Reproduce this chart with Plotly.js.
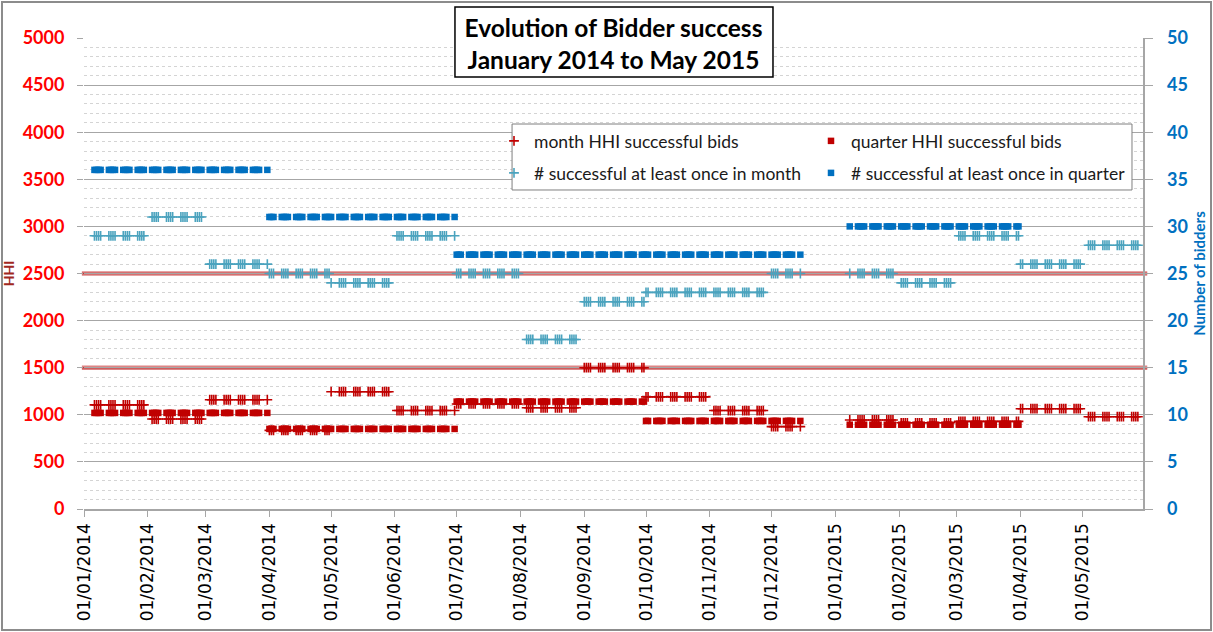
<!DOCTYPE html>
<html>
<head>
<meta charset="utf-8">
<script src="https://cdn.plot.ly/plotly-3.0.1.min.js"></script>
<style>
  html, body { margin: 0; padding: 0; background: #ffffff; }
  #chart { width: 1213px; height: 632px; position: absolute; left: 0; top: 0; }
  #frame { position: absolute; left: 1px; top: 1px; width: 1207px; height: 626px;
           border: 2px solid #8c8c8c; pointer-events: none; }
</style>
</head>
<body>
<div id="chart"></div>
<div id="frame"></div>
<script>
// ---- Data ----
// Monthly values (Jan 2014 .. May 2015)
const months = ['2014-01','2014-02','2014-03','2014-04','2014-05','2014-06',
                '2014-07','2014-08','2014-09','2014-10','2014-11','2014-12',
                '2015-01','2015-02','2015-03','2015-04','2015-05'];
const monthHHI = [1105, 955, 1160, 835, 1245, 1045,
                  1115, 1075, 1500, 1190, 1045, 875,
                  945, 915, 930, 1065, 980];
const monthBidders = [29, 31, 26, 25, 24, 29,
                      25, 18, 22, 23, 23, 25,
                      25, 24, 29, 26, 28];
// Quarterly values (Q1 2014 .. Q1 2015)
const quarters = ['2014-Q1','2014-Q2','2014-Q3','2014-Q4','2015-Q1'];
const quarterHHI = [1020, 850, 1140, 935, 895];
const quarterBidders = [36, 31, 27, 27, 30];
// Periods covered by observations (observation days: Monday to Thursday)
const periodStart = ['2014-01-06', '2015-01-08'];
const periodEnd   = ['2014-12-15', '2015-05-28'];
const observationWeekdays = [1, 2, 3, 4];
// Reference levels
const hhiThresholds = [1500, 2500];

// ---- Expand to one observation per observation day ----
function pad(n){ return (n < 10 ? '0' : '') + n; }
const xDay = [], yMonthHHI = [], yMonthBid = [];
const xQ = [], yQHHI = [], yQBid = [];
for (let p = 0; p < periodStart.length; p++) {
  const s = periodStart[p].split('-').map(Number);
  const e = periodEnd[p].split('-').map(Number);
  let d = new Date(Date.UTC(s[0], s[1]-1, s[2]));
  const end = new Date(Date.UTC(e[0], e[1]-1, e[2]));
  while (d <= end) {
    if (observationWeekdays.indexOf(d.getUTCDay()) >= 0) {
      const y = d.getUTCFullYear(), m = d.getUTCMonth();
      const key = y + '-' + pad(m+1);
      const ds = key + '-' + pad(d.getUTCDate());
      const mi = months.indexOf(key);
      if (mi >= 0) {
        xDay.push(ds); yMonthHHI.push(monthHHI[mi]); yMonthBid.push(monthBidders[mi]);
        const qi = quarters.indexOf(y + '-Q' + (Math.floor(m/3)+1));
        if (qi >= 0) { xQ.push(ds); yQHHI.push(quarterHHI[qi]); yQBid.push(quarterBidders[qi]); }
      }
    }
    d = new Date(d.getTime() + 86400000);
  }
}

const RED = '#C00000', TEAL = '#4BA3BE', BLUE = '#0070C0';
const traces = [
  { type: 'scatter', mode: 'markers', name: 'month HHI successful bids',
    x: xDay, y: yMonthHHI, yaxis: 'y', legend: 'legend',
    marker: { symbol: 'cross-thin', size: 7, color: RED, line: { color: RED, width: 1.6 } } },
  { type: 'scatter', mode: 'markers', name: 'quarter HHI successful bids',
    x: xQ, y: yQHHI, yaxis: 'y', legend: 'legend',
    marker: { symbol: 'square', size: 6.5, color: RED } },
  { type: 'scatter', mode: 'markers', name: '# successful at least once in month',
    x: xDay, y: yMonthBid, yaxis: 'y2', legend: 'legend2',
    marker: { symbol: 'cross-thin', size: 7, color: TEAL, line: { color: TEAL, width: 1.6 } } },
  { type: 'scatter', mode: 'markers', name: '# successful at least once in quarter',
    x: xQ, y: yQBid, yaxis: 'y2', legend: 'legend2',
    marker: { symbol: 'square', size: 6.5, color: BLUE } }
];

const shapes = [];
hhiThresholds.forEach(v => {
  shapes.push({ type: 'line', xref: 'paper', x0: -0.002, x1: 1.004, yref: 'y', y0: v, y1: v,
    line: { color: 'rgba(200,50,50,0.6)', width: 4.5 }, layer: 'below' });
  shapes.push({ type: 'line', xref: 'paper', x0: -0.002, x1: 1.004, yref: 'y', y0: v, y1: v,
    line: { color: 'rgba(185,45,45,0.85)', width: 1.5 }, layer: 'below' });
});
// title box
shapes.push({ type: 'rect', xref: 'paper', yref: 'paper', x0: 0.3503, x1: 0.6506, y0: 0.9172, y1: 1.0658,
  fillcolor: '#ffffff', line: { color: '#000000', width: 1.5 }, layer: 'above' });
// legend box
shapes.push({ type: 'rect', xref: 'paper', yref: 'paper', x0: 0.4042, x1: 0.9896, y0: 0.6773, y1: 0.8174,
  fillcolor: '#ffffff', line: { color: '#7f7f7f', width: 1 }, layer: 'above' });

const legendCommon = {
  orientation: 'h', xanchor: 'left', yanchor: 'middle',
  bgcolor: 'rgba(0,0,0,0)', borderwidth: 0,
  entrywidthmode: 'pixels', entrywidth: 272, itemwidth: 30,
  font: { family: 'Lato, sans-serif', size: 17.5, color: '#1a1a1a' }
};

const layout = {
  width: 1213, height: 632,
  margin: { l: 84, r: 70, t: 38, b: 123 },
  paper_bgcolor: '#ffffff', plot_bgcolor: '#ffffff',
  showlegend: true,
  title: { text: '<b>Evolution of Bidder success<br>January 2014 to May 2015</b>',
    xref: 'paper', x: 0.5, xanchor: 'center', yref: 'container', y: 1 - 37/632, yanchor: 'middle',
    font: { family: 'Lato, sans-serif', size: 24.5, color: '#000000' } },
  xaxis: {
    type: 'date', range: ['2013-12-31 22:00', '2015-05-30 12:00'],
    tick0: '2014-01-01', dtick: 'M1', tickformat: '%d/%m/%Y', tickangle: -90,
    tickfont: { family: 'DejaVu Sans, sans-serif', size: 17, color: '#000000' },
    ticks: 'outside', ticklen: 6, tickcolor: '#a6a6a6',
    showline: true, linecolor: '#a6a6a6', linewidth: 1.5,
    showgrid: false, zeroline: false
  },
  yaxis: {
    range: [0, 5000], dtick: 500, tick0: 0,
    tickfont: { family: 'Lato, sans-serif', size: 18, color: '#FF0000', weight: 'bold' },
    ticks: 'outside', ticklen: 6, tickcolor: '#a6a6a6', ticklabelstandoff: 9,
    showgrid: true, gridcolor: '#a6a6a6', gridwidth: 1,
    minor: { dtick: 100, showgrid: true, gridcolor: '#d4d4d4', griddash: 'dot', gridwidth: 1 },
    showline: false, zeroline: false,
    title: { text: 'HHI', standoff: 8, font: { family: 'Lato, sans-serif', size: 14, color: '#A0281E', weight: 'bold' } }
  },
  yaxis2: {
    range: [0, 50], dtick: 5, tick0: 0, overlaying: 'y', side: 'right',
    tickfont: { family: 'Lato, sans-serif', size: 18, color: '#0070C0', weight: 'bold' },
    ticks: 'outside', ticklen: 8, tickcolor: '#a6a6a6', ticklabelstandoff: 11,
    showgrid: false, zeroline: false, showline: true, linecolor: '#a6a6a6', linewidth: 1.5,
    title: { text: 'Number of bidders', standoff: 7, font: { family: 'Lato, sans-serif', size: 15, color: '#0070C0', weight: 'bold' } }
  },
  legend: Object.assign({}, legendCommon, { x: (494-84)/1059, y: 1 - (141-38)/471 }),
  legend2: Object.assign({}, legendCommon, { x: (494-84)/1059, y: 1 - (173-38)/471 }),
  shapes: shapes
};

Plotly.newPlot('chart', traces, layout, { displayModeBar: false, staticPlot: true });
</script>
</body>
</html>
